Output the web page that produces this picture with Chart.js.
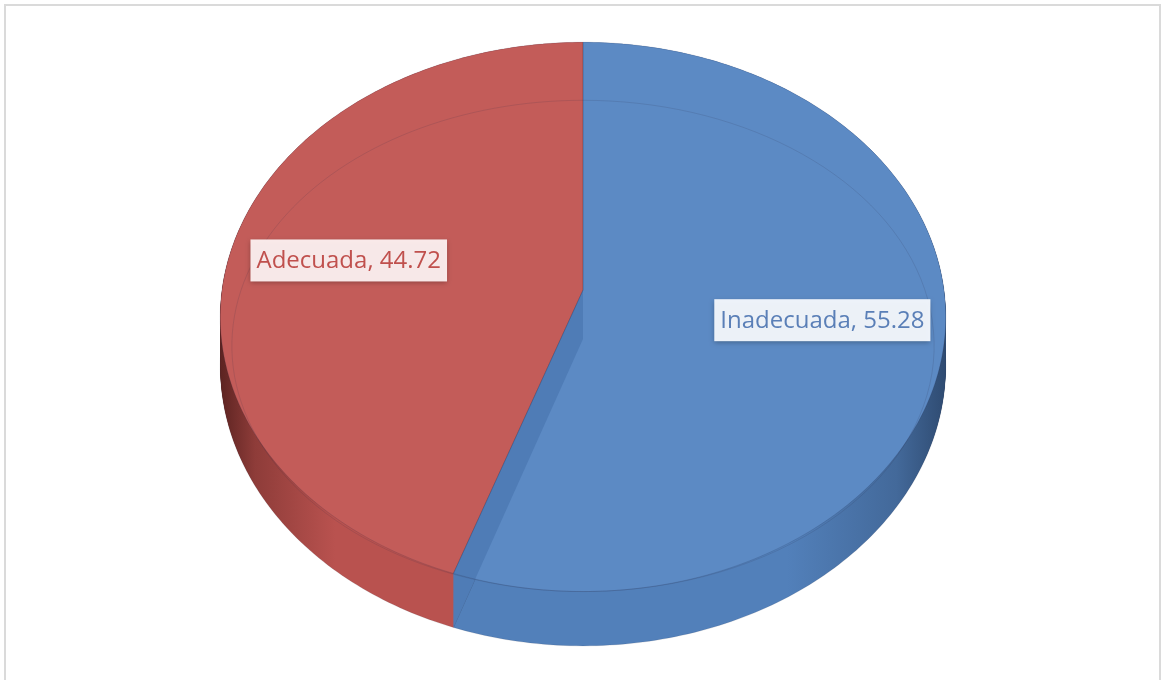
<!DOCTYPE html>
<html>
<head>
<meta charset="utf-8">
<script src="https://cdn.jsdelivr.net/npm/chart.js@4.4.0/dist/chart.umd.min.js"></script>
<style>
  body { margin: 0; background: #fff; }
  #wrap { position: relative; width: 1163px; height: 680px; overflow: hidden; }
  #pieChart { position: absolute; left: 0; top: 0; }
  #frame { position: absolute; left: 4px; top: 4px; width: 1157px; height: 720px; border: 2px solid #dadada; box-sizing: border-box; }
</style>
</head>
<body>
<div id="wrap">
  <canvas id="pieChart" width="1163" height="680"></canvas>
  <div id="frame"></div>
</div>
<script>
const labels = ['Inadecuada', 'Adecuada'];
const values = [55.28, 44.72];
const topColors = ['#5c8ac4', '#c35c59'];
const sideColors = ['#5280ba', '#b9524f'];
const rimColors = ['#2e4a70', '#5a2220'];
const wallColors = ['#4f7cb6', '#a94946'];
const textColors = ['#5a7fb7', '#c0504d'];
const boxColors = ['rgba(246,249,253,0.95)', 'rgba(253,241,241,0.95)'];

// tilted disc, seen from above and in front
const view = { cx: 583, cy: 290, a: 361, b: 272, k: 0.098, depth: 49 };

function project(u, v, h) {
    const w = 1 - view.k * v;
    return [view.cx + view.a * u / w, view.cy + (view.b * v + view.depth * h) / w];
}

function slicePath(ctx, arc, h) {
    const span = arc.endAngle - arc.startAngle;
    const steps = Math.max(10, Math.ceil(span * 60));
    ctx.beginPath();
    let p = project(0, 0, h);
    ctx.moveTo(p[0], p[1]);
    for (let i = 0; i <= steps; i++) {
        const t = arc.startAngle + span * i / steps;
        p = project(Math.cos(t), Math.sin(t), h);
        ctx.lineTo(p[0], p[1]);
    }
    ctx.closePath();
}

function sideFill(ctx, i) {
    const left = view.cx - view.a * 1.01, right = view.cx + view.a * 1.01;
    const g = ctx.createLinearGradient(left, 0, right, 0);
    if (i === 1) {
        g.addColorStop(0, rimColors[i]);
        g.addColorStop(0.05, '#8e3c39');
        g.addColorStop(0.16, sideColors[i]);
        g.addColorStop(1, sideColors[i]);
    } else {
        g.addColorStop(0, sideColors[i]);
        g.addColorStop(0.78, sideColors[i]);
        g.addColorStop(0.93, '#43699a');
        g.addColorStop(1, rimColors[i]);
    }
    return g;
}

const pie3d = {
    id: 'pie3d',
    beforeDatasetsDraw(chart) {
        const ctx = chart.ctx;
        const arcs = chart.getDatasetMeta(0).data;
        ctx.save();

        // side of the disc, stacked from the bottom up
        for (let d = view.depth; d >= 0; d--) {
            arcs.forEach((arc, i) => {
                slicePath(ctx, arc, d / view.depth);
                ctx.fillStyle = sideFill(ctx, i);
                ctx.fill();
            });
        }

        // faint line along the bottom rim
        ctx.lineWidth = 1;
        arcs.forEach((arc) => {
            slicePath(ctx, arc, 1);
            ctx.strokeStyle = 'rgba(40,40,60,0.12)';
            ctx.stroke();
        });

        // top faces
        arcs.forEach((arc, i) => {
            slicePath(ctx, arc, 0);
            ctx.fillStyle = topColors[i];
            ctx.fill();
        });

        // cut wall at the front seam
        arcs.forEach((arc, i) => {
            const s = Math.sin(arc.startAngle), c = Math.cos(arc.startAngle);
            if (s <= 0) return;
            const prev = (i + arcs.length - 1) % arcs.length;
            const pts = [project(0, 0, 0), project(c, s, 0), project(c, s, 1), project(0, 0, 1)];
            ctx.beginPath();
            ctx.moveTo(pts[0][0], pts[0][1]);
            pts.slice(1).forEach(p => ctx.lineTo(p[0], p[1]));
            ctx.closePath();
            ctx.fillStyle = wallColors[prev];
            ctx.fill();
        });

        // top outline and bevel ring
        arcs.forEach((arc) => {
            slicePath(ctx, arc, 0);
            ctx.strokeStyle = 'rgba(30,40,70,0.16)';
            ctx.lineWidth = 1;
            ctx.stroke();

            const span = arc.endAngle - arc.startAngle;
            ctx.beginPath();
            for (let j = 0; j <= 80; j++) {
                const t = arc.startAngle + span * j / 80;
                const v = Math.sin(t);
                const p = project(0.968 * Math.cos(t), v, 1.3 * (1 - v) / 2);
                if (j === 0) ctx.moveTo(p[0], p[1]); else ctx.lineTo(p[0], p[1]);
            }
            ctx.strokeStyle = 'rgba(40,40,70,0.14)';
            ctx.stroke();
        });

        // data labels
        ctx.font = '24px "Open Sans"';
        ctx.textAlign = 'center';
        ctx.textBaseline = 'middle';
        arcs.forEach((arc, i) => {
            const mid = (arc.startAngle + arc.endAngle) / 2;
            const p = project(0.665 * Math.cos(mid), 0.665 * Math.sin(mid), 0);
            const text = labels[i] + ', ' + values[i];
            const w = ctx.measureText(text).width + 12;
            const h = 42;
            ctx.save();
            ctx.shadowColor = 'rgba(0,0,0,0.3)';
            ctx.shadowBlur = 5;
            ctx.shadowOffsetY = 2;
            ctx.fillStyle = boxColors[i];
            ctx.fillRect(p[0] - w / 2, p[1] - h / 2, w, h);
            ctx.restore();
            ctx.fillStyle = textColors[i];
            ctx.fillText(text, p[0], p[1] + 1);
        });

        ctx.restore();
        return false;
    }
};

new Chart(document.getElementById('pieChart'), {
    type: 'pie',
    data: {
        labels: labels,
        datasets: [{
            data: values,
            backgroundColor: topColors,
            borderWidth: 0
        }]
    },
    options: {
        responsive: false,
        animation: false,
        plugins: {
            legend: { display: false },
            tooltip: { enabled: false }
        }
    },
    plugins: [pie3d]
});
</script>
</body>
</html>
